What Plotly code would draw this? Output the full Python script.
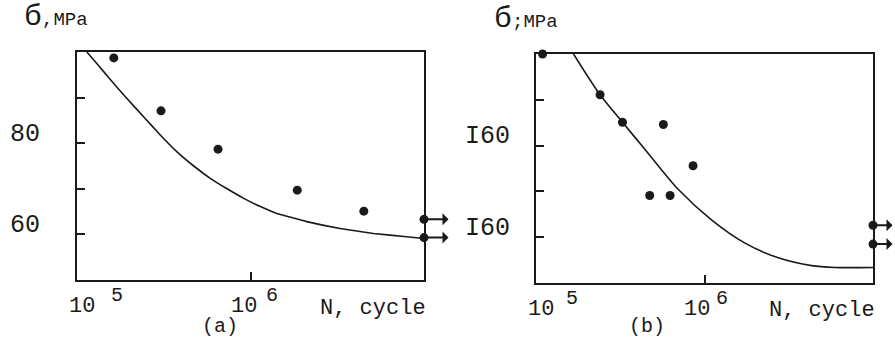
import numpy as np
import plotly.graph_objects as go

# ---------------- data ----------------
# panel (a)
a_pts_N = [1.63e5, 3.05e5, 6.5e5, 1.86e6, 4.5e6]
a_pts_s = [98.7, 87.1, 78.7, 69.7, 65.1]
a_run_N = [1e7, 1e7]
a_run_s = [63.3, 59.3]
a_curve_N = [1.14e5, 1.30e5, 1.56e5, 1.94e5, 2.42e5, 3.02e5, 3.77e5, 4.71e5, 5.86e5, 7.33e5,
             9.14e5, 1.14e6, 1.42e6, 2.11e6, 3.28e6, 5.11e6, 7.94e6, 1e7]
a_curve_s = [100.0, 97.5, 93.9, 89.8, 85.8, 81.8, 78.1, 75.0, 72.3, 70.0,
             67.9, 66.1, 64.6, 62.8, 61.3, 60.2, 59.5, 59.1]
a_ytick_vals = [60, 70, 80, 90]
a_ylabel_vals = [80, 60]
a_ylabel_text = ["80", "60"]

# panel (b)
b_pts_N = [1.094e5, 2.40e5, 3.26e5, 5.70e5, 8.55e5, 4.73e5, 6.25e5]
b_pts_s = [200.0, 191.1, 185.1, 184.6, 175.6, 169.1, 169.1]
b_run_N = [1e7, 1e7]
b_run_s = [162.6, 158.5]
b_curve_N = [1.67e5, 2.40e5, 3.26e5, 4.45e5, 7.0e5, 1.10e6, 1.74e6, 2.74e6, 4.32e6, 5.93e6, 1e7]
b_curve_s = [200.0, 191.1, 185.1, 179.1, 170.4, 163.8, 158.7, 155.5, 153.8, 153.4, 153.4]
b_ytick_vals = [160, 170, 180, 190]
b_ylabel_vals = [180, 160]
b_ylabel_text = ["I60", "I60"]

x_tick_N = [1e5, 1e6]
x_tick_base = ["10", "10"]
x_tick_exp = ["5", "6"]

W, H = 895, 342
INK = "#1a1a1a"
FONT = "Liberation Mono"

fig = go.Figure()

panels = [
    dict(x="x", y="y", pN=a_pts_N, ps=a_pts_s, rN=a_run_N, rs=a_run_s,
         cN=a_curve_N, cs=a_curve_s, sm=0.3),
    dict(x="x2", y="y2", pN=b_pts_N, ps=b_pts_s, rN=b_run_N, rs=b_run_s,
         cN=b_curve_N, cs=b_curve_s, sm=0.8),
]

for p in panels:
    fig.add_trace(go.Scatter(x=p["cN"], y=p["cs"], mode="lines", xaxis=p["x"], yaxis=p["y"],
                             line=dict(color=INK, width=1.6, shape="spline", smoothing=p["sm"]),
                             hoverinfo="skip", showlegend=False))
    fig.add_trace(go.Scatter(x=p["pN"] + p["rN"], y=p["ps"] + p["rs"], mode="markers",
                             xaxis=p["x"], yaxis=p["y"], cliponaxis=False,
                             marker=dict(color=INK, size=9), showlegend=False))

axis_common = dict(showline=True, linecolor=INK, linewidth=2, mirror=True, showgrid=False,
                   zeroline=False, ticks="inside", tickcolor=INK, tickwidth=2, ticklen=8,
                   showticklabels=False)

fig.update_layout(
    width=W, height=H, margin=dict(l=0, r=0, t=0, b=0),
    paper_bgcolor="white", plot_bgcolor="white", showlegend=False,
    xaxis=dict(domain=[77 / W, 424 / W], type="log", range=[5, 7], tickvals=x_tick_N[1:], anchor="y", **axis_common),
    yaxis=dict(domain=[1 - 280 / H, 1 - 52 / H], range=[50, 100], tickvals=a_ytick_vals, anchor="x", **axis_common),
    xaxis2=dict(domain=[536 / W, 873 / W], type="log", range=[5, 7], tickvals=x_tick_N[1:], anchor="y2", **axis_common),
    yaxis2=dict(domain=[1 - 283 / H, 1 - 54 / H], range=[150, 200], tickvals=b_ytick_vals, anchor="x2", **axis_common),
)

ann = []
# runout arrows
for xr, yr, rN, rs, alen in [("x", "y", a_run_N, a_run_s, 26), ("x2", "y2", b_run_N, b_run_s, 21)]:
    for n, s in zip(rN, rs):
        ann.append(dict(x=np.log10(n), y=s, xref=xr, yref=yr, text="", showarrow=True,
                        ax=alen, ay=0, arrowside="start", arrowhead=2, arrowsize=1.2,
                        arrowwidth=2, arrowcolor=INK))

# y labels
for xr, yr, vals, txt, xoff in [("x domain", "y", a_ylabel_vals, a_ylabel_text, -0.10),
                                ("x2 domain", "y2", b_ylabel_vals, b_ylabel_text, -0.07)]:
    for v, t in zip(vals, txt):
        ann.append(dict(x=xoff, y=v, xref=xr, yref=yr, text=t, showarrow=False,
                        xanchor="right", yanchor="middle", yshift=9,
                        font=dict(family=FONT, size=25, color=INK)))

# x labels (base + exponent)
shifts = {"x": [(5, 40), (-7, 21)], "x2": [(5, 36), (-8, 17)]}
for xr in ["x", "x2"]:
    yr = "y" if xr == "x" else "y2"
    for i, (n, b, e) in enumerate(zip(x_tick_N, x_tick_base, x_tick_exp)):
        sb, se = shifts[xr][i]
        ann.append(dict(x=np.log10(n), y=0, xref=xr, yref=yr + " domain", text=b, showarrow=False,
                        xanchor="center", yanchor="top", xshift=sb, yshift=-12,
                        font=dict(family=FONT, size=22, color=INK)))
        ann.append(dict(x=np.log10(n), y=0, xref=xr, yref=yr + " domain", text=e, showarrow=False,
                        xanchor="center", yanchor="top", xshift=se, yshift=-2,
                        font=dict(family=FONT, size=20, color=INK)))

# axis titles
ann.append(dict(x=428 / W, y=1 - 294 / H, xref="paper", yref="paper", text="N, cycle", showarrow=False,
                xanchor="right", yanchor="top", font=dict(family=FONT, size=22, color=INK)))
ann.append(dict(x=877 / W, y=1 - 296 / H, xref="paper", yref="paper", text="N, cycle", showarrow=False,
                xanchor="right", yanchor="top", font=dict(family=FONT, size=22, color=INK)))
ann.append(dict(x=22 / W, y=1 - 36 / H, xref="paper", yref="paper",
                text='<span style="font-size:30px">б</span>,MPa', showarrow=False,
                xanchor="left", yanchor="bottom", font=dict(family=FONT, size=19, color=INK)))
ann.append(dict(x=492 / W, y=1 - 38 / H, xref="paper", yref="paper",
                text='<span style="font-size:30px">б</span>;MPa', showarrow=False,
                xanchor="left", yanchor="bottom", font=dict(family=FONT, size=19, color=INK)))
# panel captions
ann.append(dict(x=220 / W, y=0, xref="paper", yref="paper", text="(a)", showarrow=False,
                xanchor="center", yanchor="bottom", yshift=2, font=dict(family=FONT, size=20, color=INK)))
ann.append(dict(x=647 / W, y=0, xref="paper", yref="paper", text="(b)", showarrow=False,
                xanchor="center", yanchor="bottom", yshift=2, font=dict(family=FONT, size=20, color=INK)))

fig.update_layout(annotations=ann)
fig.write_html("out.html", config={"displayModeBar": False},
               post_script="document.body.style.margin='0';document.body.style.overflow='hidden';")
